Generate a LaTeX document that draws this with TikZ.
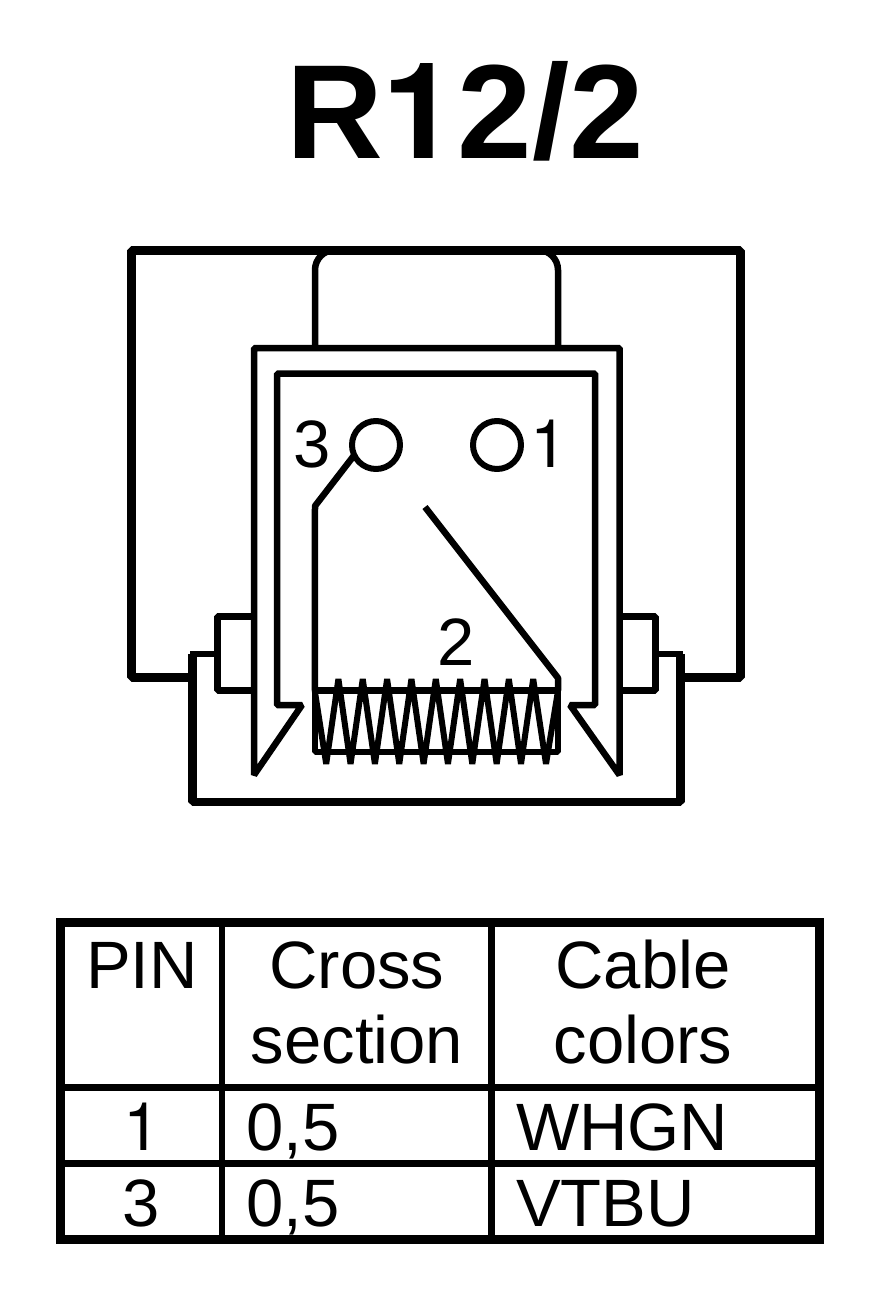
\documentclass[tikz,border=0pt]{standalone}
\usepackage{fontspec}
\setmainfont{Liberation Sans}
\newfontfamily\onefont{TeX Gyre Heros}
\usetikzlibrary{calc}
\begin{document}
\begin{tikzpicture}[x=1pt,y=-1pt,line join=bevel,
  thick line/.style={line width=9pt},
  mid line/.style={line width=8.5pt},
  thin line/.style={line width=6.5pt},
  spring line/.style={line width=6pt},
  pin hole/.style={draw,circle,line width=6pt,minimum size=48pt,inner sep=0pt,outer sep=0pt},
  spring box/.style={draw,rectangle,line width=6.5pt,minimum width=243.3pt,minimum height=61.5pt,inner sep=0pt,outer sep=0pt},
  label text/.style={font=\fontsize{67}{75}\selectfont,inner sep=0pt,anchor=base},
  left text/.style={label text,anchor=base west}]
\useasboundingbox (0,0) rectangle (896,1298);
\draw node [font=\fontsize{134}{134}\selectfont\bfseries,inner sep=0pt,anchor=base] (title) at (465,158) {R{\onefont 1}2/2};
\draw node [spring box] (spring) at (436.4,721.3) {};
\draw node [pin hole] (pinthree) at (376,445) {};
\draw node [pin hole] (pinone) at (497,445) {};
\draw node [label text] (labthree) at (312.5,467) {3};
\draw node [label text,font=\fontsize{67}{75}\selectfont\onefont] (labone) at (549.5,467) {1};
\draw node [label text] (labtwo) at (456,665) {2};
\coordinate (frameleft) at (192.6,677);
\coordinate (frameright) at (680.5,677);
\coordinate (wirefree) at (425,507);
\draw [thick line] (frameleft) -- (131.5,677) -- (131.5,250) -- (740.5,250) -- (740.5,677) -- (frameright);
\draw [mid line] (192.6,654) -- (192.6,801.8) -- (680.5,801.8) -- (680.5,654);
\draw [thin line] (190,654) -- (217.7,654) -- (217.7,616.6) -- (253.5,616.6);
\draw [thin line] (217.7,654) -- (217.7,690.4) -- (253.5,690.4);
\draw [thin line] (683,654) -- (655.5,654) -- (655.5,616.6) -- (619.5,616.6);
\draw [thin line] (655.5,654) -- (655.5,690.4) -- (619.5,690.4);
\draw [thin line,rounded corners=20pt] (315,348) -- (315,250) -- (558,250) -- (558,348);
\draw [thin line] (302,705) -- (254,775) -- (254,348) -- (619.5,348) -- (619.5,775) -- (570,705) -- (595,705) -- (595,373.5) -- (277,373.5) -- (277,705) -- cycle;
\draw [thin line] (pinthree.205) -- (315,506) -- (spring.north west);
\draw [thin line] (wirefree) -- (558,678) -- (spring.north east);
\draw [spring line] (spring.north west) \foreach \i in {0,...,8} { -- ({326.2+24.35*\i},764) -- ({338.4+24.35*\i},679) } -- (546,764) -- (spring.north east);
\draw [thick line,line join=miter] (60.5,922.5) rectangle (819.5,1239.5);
\draw [thin line] (222,922.5) -- (222,1239.5);
\draw [thin line] (491.5,922.5) -- (491.5,1239.5);
\draw [thin line] (60.5,1087.5) -- (819.5,1087.5);
\draw [thin line] (60.5,1163.5) -- (819.5,1163.5);
\draw node [label text] (headpin) at (142,988) {PIN};
\draw node [label text,align=center] (headcross) at (357,1063) {Cross\\section};
\draw node [label text,align=center] (headcable) at (643,1063) {Cable\\colors};
\draw node [label text,font=\fontsize{67}{75}\selectfont\onefont] (pinrowone) at (142,1150) {1};
\draw node [left text] (crossrowone) at (246,1150) {0,5};
\draw node [left text] (cablerowone) at (516,1150) {WHGN};
\draw node [label text] (pinrowthree) at (141,1226) {3};
\draw node [left text] (crossrowthree) at (246,1226) {0,5};
\draw node [left text] (cablerowthree) at (516,1226) {VTBU};
\end{tikzpicture}
\end{document}
